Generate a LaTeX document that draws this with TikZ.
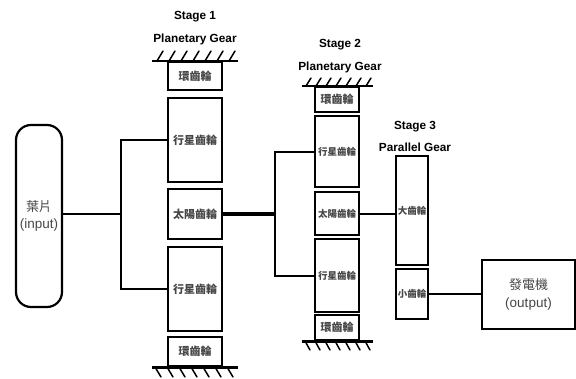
\documentclass[tikz,border=0pt]{standalone}
\usepackage{fontspec}
\setmainfont{Liberation Sans}
\newfontfamily\cjk{Noto Sans CJK TC}
\usepackage{tikz}
\usetikzlibrary{calc}
\usepackage{xcolor}
\definecolor{labelgray}{RGB}{70, 70, 70}
\newcommand{\fsz}[1]{\fontsize{#1}{#1}\selectfont}

\begin{document}
\begin{tikzpicture}[
  x=1pt, y=-1pt,
  gearbox/.style={draw, line width=2.4pt, inner sep=0pt, text=labelgray,
                  font=\cjk\bfseries\fsz{11}},
  smallgear/.style={gearbox, font=\cjk\bfseries\fsz{9.5}},
  title/.style={font=\bfseries\fsz{11.8}, inner sep=0pt},
  shaft/.style={line width=2pt},
  mainshaft/.style={line width=3.2pt},
  ground/.style={line width=2.6pt},
  hatch/.style={line width=1.5pt, line cap=round}
]
  \useasboundingbox (0,0) rectangle (576,378);

  % input and output
  \node[draw, line width=2.2pt, rounded corners=15pt, minimum width=46pt,
        minimum height=182pt, align=center, text=labelgray,
        font=\fsz{13.5}] (inp) at (39,216)
    {{\cjk\fsz{13}葉片}\\[4pt](input)};
  \node[draw, line width=2.2pt, minimum width=93pt, minimum height=69pt,
        align=center, text=labelgray, font=\fsz{13.5}] (gen) at (528.5,294.5)
    {{\cjk\fsz{13}發電機}\\[4pt](output)};

  % stage 1
  \node[title] at (195,17) {Stage 1};
  \node[title] at (195,39) {Planetary Gear};
  \node[gearbox, minimum width=54pt, minimum height=28pt] (ringAt) at (195,76) {環齒輪};
  \node[gearbox, minimum width=54pt, minimum height=84pt] (planAu) at (195,140) {行星齒輪};
  \node[gearbox, minimum width=54pt, minimum height=50pt] (sunA)   at (195,214) {太陽齒輪};
  \node[gearbox, minimum width=54pt, minimum height=84pt] (planAd) at (195,289) {行星齒輪};
  \node[gearbox, minimum width=54pt, minimum height=29pt] (ringAb) at (195,351.5) {環齒輪};

  % stage 2
  \node[title] at (340,45) {Stage 2};
  \node[title] at (340,67) {Planetary Gear};
  \node[gearbox, minimum width=44pt, minimum height=25pt] (ringBt) at (337,99.5) {環齒輪};
  \node[smallgear, minimum width=44pt, minimum height=71pt] (planBu) at (337,151.5) {行星齒輪};
  \node[smallgear, minimum width=44pt, minimum height=43pt] (sunB)   at (337,213.5) {太陽齒輪};
  \node[smallgear, minimum width=44pt, minimum height=73pt] (planBd) at (337,275.5) {行星齒輪};
  \node[gearbox, minimum width=44pt, minimum height=25pt] (ringBb) at (337,327.5) {環齒輪};

  % stage 3
  \node[title] at (415,127) {Stage 3};
  \node[title] at (415,147) {Parallel Gear};
  \node[smallgear, minimum width=32pt, minimum height=109pt] (bigC)   at (412,210.5) {大齒輪};
  \node[smallgear, minimum width=32pt, minimum height=50pt]  (smallC) at (412,294) {小齒輪};

  % fixed ring gears
  \draw[ground] ([xshift=-15pt]ringAt.north west) -- ([xshift=15pt]ringAt.north east);
  \draw[ground] ([xshift=-15pt]ringAb.south west) -- ([xshift=15pt]ringAb.south east);
  \draw[ground] ([xshift=-12pt]ringBt.north west) -- ([xshift=13pt]ringBt.north east);
  \draw[ground] ([xshift=-12pt]ringBb.south west) -- ([xshift=13pt]ringBb.south east);
  \foreach \k in {0,...,6} {
    \draw[hatch] (157+12*\k,61) -- ++(6,-10);
    \draw[hatch] (155+12*\k,367) -- ++(6,10);
  }
  \foreach \k in {0,...,6} {
    \draw[hatch] (306+10*\k,86) -- ++(5,-8);
    \draw[hatch] (305+10*\k,341) -- ++(5,9);
  }

  % shafts and carriers
  \coordinate (carA) at (121,214);
  \coordinate (carB) at (275,214);
  \draw[shaft] (inp.east |- carA) -- (carA);
  \draw[shaft] (planAu.west) -| (carA) |- (planAd.west);
  \draw[mainshaft] (sunA.east) -- (carB);
  \draw[shaft] (planBu.west) -| (carB) |- (planBd.west);
  \draw[shaft] (sunB.east) -- (sunB.east -| bigC.west);
  \draw[shaft] (smallC.east) -- (gen.west |- smallC.east);
\end{tikzpicture}
\end{document}
